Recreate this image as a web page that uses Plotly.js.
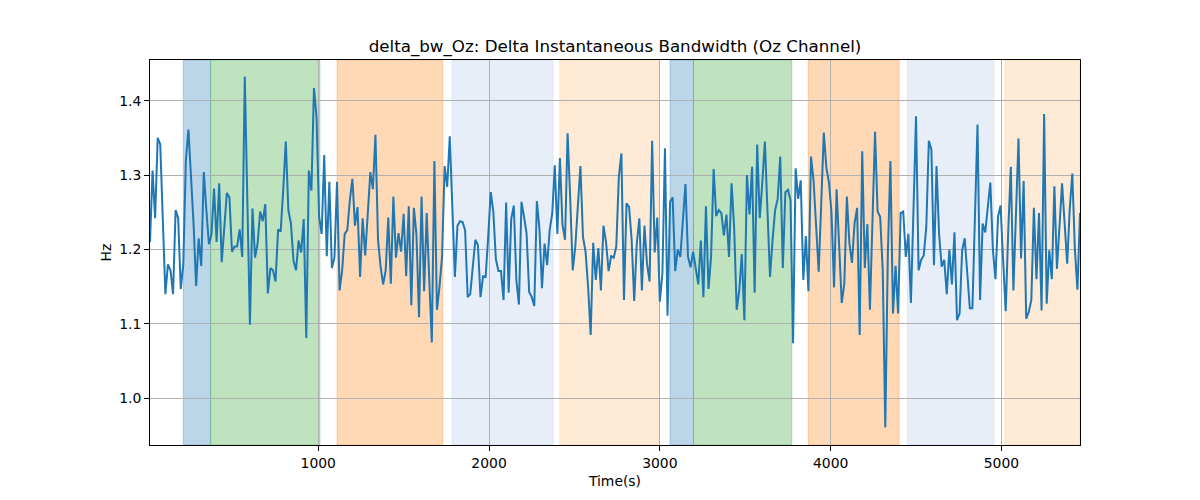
<!DOCTYPE html>
<html>
<head>
<meta charset="utf-8">
<script src="https://cdn.plot.ly/plotly-3.0.1.min.js"></script>
<style>html,body{margin:0;padding:0;background:#fff;}#chart{width:1200px;height:500px;}</style>
</head>
<body>
<div id="chart"></div>
<script>
// Sampling of the signal (seconds)
const startTime = 15;
const sampleStep = 15;

// Delta instantaneous bandwidth, Oz channel (Hz)
const bandwidthHz = [
  1.21, 1.306, 1.242, 1.35, 1.341, 1.24, 1.14, 1.18, 1.172, 1.14,
  1.253, 1.242, 1.147, 1.18, 1.32, 1.361, 1.305, 1.235, 1.151, 1.215,
  1.178, 1.304, 1.253, 1.207, 1.22, 1.282, 1.21, 1.289, 1.183, 1.23,
  1.276, 1.27, 1.197, 1.204, 1.204, 1.227, 1.19, 1.432, 1.265, 1.099,
  1.255, 1.189, 1.208, 1.251, 1.238, 1.261, 1.141, 1.175, 1.172, 1.157,
  1.227, 1.224, 1.28,
  1.345, 1.253, 1.235, 1.185, 1.172, 1.212, 1.196, 1.241, 1.081, 1.306,
  1.279, 1.417, 1.378, 1.244, 1.221, 1.327, 1.191, 1.291, 1.175, 1.189,
  1.291, 1.145, 1.172, 1.221, 1.226, 1.266, 1.295, 1.232, 1.257, 1.163,
  1.242, 1.192, 1.253, 1.304, 1.281, 1.354, 1.213, 1.177, 1.153, 1.172,
  1.243, 1.154, 1.271, 1.189, 1.222, 1.197, 1.248, 1.164, 1.258, 1.125,
  1.256,
  1.22, 1.109, 1.271, 1.144, 1.249, 1.16, 1.075, 1.319, 1.119, 1.15,
  1.19, 1.312, 1.284, 1.352, 1.25, 1.163, 1.232, 1.238, 1.237, 1.226,
  1.136, 1.14, 1.177, 1.213, 1.206, 1.136, 1.164, 1.163, 1.217, 1.277,
  1.251, 1.187, 1.171, 1.171, 1.132, 1.263, 1.142, 1.241, 1.259, 1.159,
  1.126, 1.264, 1.244, 1.221, 1.143, 1.136, 1.124, 1.265, 1.228, 1.148,
  1.208, 1.179,
  1.226, 1.248, 1.313, 1.221, 1.323, 1.233, 1.213, 1.356, 1.27, 1.172,
  1.204, 1.253, 1.312, 1.217, 1.197, 1.15, 1.085, 1.209, 1.159, 1.202,
  1.145, 1.232, 1.21, 1.171, 1.191, 1.189, 1.204, 1.298, 1.329, 1.132,
  1.262, 1.257, 1.213, 1.131, 1.208, 1.242, 1.145, 1.232, 1.181, 1.157,
  1.346, 1.196, 1.243, 1.13, 1.168, 1.336, 1.111, 1.264, 1.27, 1.171,
  1.2, 1.19,
  1.235, 1.288, 1.19, 1.176, 1.197, 1.177, 1.153, 1.212, 1.136, 1.258,
  1.147, 1.19, 1.308, 1.245, 1.253, 1.249, 1.219, 1.247, 1.19, 1.289,
  1.23, 1.119, 1.145, 1.194, 1.105, 1.3, 1.247, 1.311, 1.142, 1.341,
  1.242, 1.29, 1.345, 1.253, 1.163, 1.213, 1.253, 1.268, 1.325, 1.175,
  1.277, 1.28, 1.266, 1.074, 1.309, 1.268, 1.293, 1.159, 1.218, 1.144,
  1.325, 1.293,
  1.235, 1.17, 1.262, 1.357, 1.31, 1.29, 1.25, 1.149, 1.281, 1.204,
  1.128, 1.154, 1.271, 1.208, 1.182, 1.235, 1.256, 1.085, 1.332, 1.175,
  1.234, 1.119, 1.248, 1.358, 1.251, 1.244, 1.172, 0.961, 1.195, 1.319,
  1.114, 1.178, 1.114, 1.249, 1.251, 1.19, 1.221, 1.128, 1.253, 1.379,
  1.172, 1.186, 1.192, 1.23, 1.346, 1.334, 1.179, 1.312, 1.221, 1.177,
  1.186, 1.14,
  1.2, 1.153, 1.223, 1.105, 1.114, 1.199, 1.215, 1.17, 1.121, 1.121,
  1.24, 1.368, 1.132, 1.235, 1.223, 1.261, 1.29, 1.2, 1.16, 1.244,
  1.259, 1.185, 1.117, 1.225, 1.311, 1.145, 1.24, 1.349, 1.188, 1.292,
  1.107, 1.116, 1.132, 1.256, 1.16, 1.249, 1.118, 1.382, 1.127, 1.199,
  1.16, 1.285, 1.174, 1.228, 1.289, 1.235, 1.181, 1.255, 1.302, 1.2,
  1.146, 1.249
];

// Shaded segments (seconds)
const segmentStart = [210, 370, 1110, 1784, 2414, 3060, 3197, 3869, 4450, 5020];
const segmentEnd   = [370, 1010, 1729, 2375, 2997, 3197, 3773, 4401, 4956, 5460];
const segmentKind  = ['blue', 'green', 'orange', 'lightblue', 'lightorange',
                      'blue', 'green', 'orange', 'lightblue', 'lightorange'];

// Axis ticks
const xTicks = [1000, 2000, 3000, 4000, 5000];
const yTicks = [1.0, 1.1, 1.2, 1.3, 1.4];
const yTickLabels = ['1.0', '1.1', '1.2', '1.3', '1.4'];

const kindColor = {
  blue: [31, 119, 180, 0.3],
  green: [44, 160, 44, 0.3],
  orange: [255, 127, 14, 0.3],
  lightblue: [174, 199, 232, 0.3],
  lightorange: [255, 187, 120, 0.3]
};
function rgba(c, a) { return 'rgba(' + c[0] + ',' + c[1] + ',' + c[2] + ',' + a + ')'; }

const times = bandwidthHz.map((_, i) => startTime + i * sampleStep);

const shapes = segmentStart.map((s, i) => {
  const c = kindColor[segmentKind[i]];
  return {
    type: 'rect', xref: 'x', yref: 'paper', layer: 'below',
    x0: s, x1: segmentEnd[i], y0: 0, y1: 1,
    fillcolor: rgba(c, c[3]),
    line: { color: rgba(c, c[3]), width: 1 }
  };
});

const FONT = 'DejaVu Sans, Liberation Sans, sans-serif';

const trace = {
  x: times, y: bandwidthHz, type: 'scatter', mode: 'lines',
  line: { color: '#1f77b4', width: 2 }, hoverinfo: 'skip', showlegend: false
};

const layout = {
  width: 1200, height: 500,
  margin: { l: 150, r: 120, t: 60, b: 55 },
  paper_bgcolor: '#ffffff', plot_bgcolor: '#ffffff',
  font: { family: FONT, color: '#000000', size: 13.9 },
  showlegend: false,
  title: {
    text: 'delta_bw_Oz: Delta Instantaneous Bandwidth (Oz Channel)',
    font: { family: FONT, size: 16.7, color: '#000000' },
    x: 0.5, xref: 'paper', xanchor: 'center',
    y: 1 - 46 / 500, yref: 'container', yanchor: 'middle'
  },
  xaxis: {
    range: [15, 5460], tickvals: xTicks, ticktext: xTicks.map(String),
    ticks: 'outside', ticklen: 5, tickwidth: 1, tickcolor: '#000',
    showline: true, linecolor: '#000', linewidth: 1, mirror: true,
    showgrid: true, gridcolor: '#b0b0b0', gridwidth: 1, zeroline: false,
    tickfont: { family: FONT, size: 13.9, color: '#000' },
    title: { text: 'Time(s)', font: { family: FONT, size: 13.9, color: '#000' }, standoff: 6 }
  },
  yaxis: {
    range: [0.9373, 1.4546], tickvals: yTicks, ticktext: yTickLabels,
    ticks: 'outside', ticklen: 5, tickwidth: 1, tickcolor: '#000',
    showline: true, linecolor: '#000', linewidth: 1, mirror: true,
    showgrid: true, gridcolor: '#b0b0b0', gridwidth: 1, zeroline: false,
    tickfont: { family: FONT, size: 13.9, color: '#000' },
    title: { text: 'Hz', font: { family: FONT, size: 13.9, color: '#000' }, standoff: 4 }
  },
  shapes: shapes
};

Plotly.newPlot('chart', [trace], layout, { staticPlot: true, displayModeBar: false });
</script>
</body>
</html>
